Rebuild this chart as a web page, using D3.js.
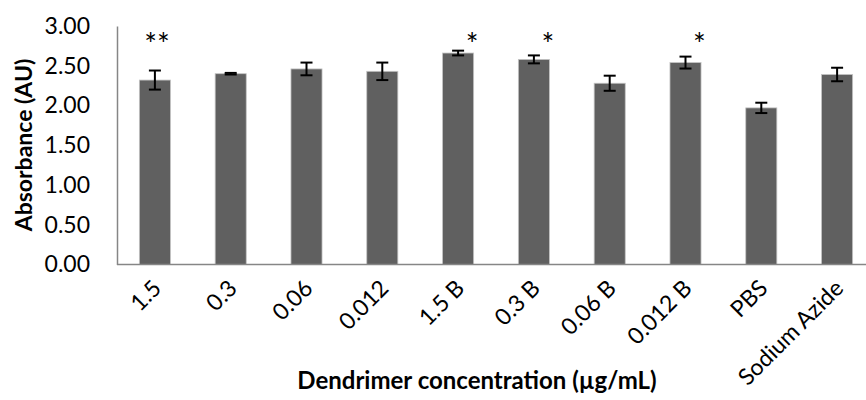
<!DOCTYPE html>
<html>
	<head>
		<meta charset="utf-8">
		<script src="https://cdn.jsdelivr.net/npm/d3@7"></script>
		<style>
			body { margin: 0; background: #fff; }
			text { font-family: Lato, "Open Sans", sans-serif; }
		</style>
	</head>
	<body> <svg width="866" height="400"></svg> </body>

	<script>
		// values
		var categories = ["1.5", "0.3", "0.06", "0.012", "1.5 B", "0.3 B", "0.06 B", "0.012 B", "PBS", "Sodium Azide"];
		var absorbance = [2.32, 2.40, 2.46, 2.43, 2.66, 2.58, 2.28, 2.54, 1.97, 2.39];
		var errors     = [0.12, 0.01, 0.08, 0.11, 0.03, 0.05, 0.095, 0.075, 0.065, 0.085];
		var stars      = ["**", "", "", "", "*", "*", "", "*", "", ""];
		var yTicks     = [0, 0.5, 1, 1.5, 2, 2.5, 3];

		var svg = d3.select("svg");
		var bar_color  = "#606060",
			axis_color = "#868686",
			font_size  = 23;

		var x = d3.scaleBand()
			.domain(categories)
			.range([117, 875])
			.paddingInner(0.59)
			.paddingOuter(0.295);

		var y = d3.scaleLinear()
			.domain([0, 3])
			.range([264.5, 26]);

		// y axis, no tick marks
		var yAxis = svg.append("g")
			.attr("transform", "translate(117,0)")
			.call(d3.axisLeft(y).tickValues(yTicks).tickFormat(d3.format(".2f")).tickSize(0).tickPadding(27));
		yAxis.select(".domain").attr("stroke", axis_color).attr("stroke-width", 1.5);
		yAxis.selectAll("text")
			.attr("font-size", font_size + "px")
			.attr("font-family", "Lato")
			.attr("fill", "#000");

		// bars
		svg.append("g").selectAll("rect")
			.data(categories)
			.join("rect")
			.attr("x", function(d) { return x(d); })
			.attr("width", x.bandwidth())
			.attr("y", function(d, i) { return y(absorbance[i]); })
			.attr("height", function(d, i) { return y(0) - y(absorbance[i]); })
			.attr("fill", bar_color)
			.attr("stroke", "#c4c4c4")
			.attr("stroke-width", 0.8);

		// x axis line, drawn over the bars
		svg.append("line")
			.attr("x1", 117).attr("x2", 866)
			.attr("y1", y(0)).attr("y2", y(0))
			.attr("stroke", axis_color)
			.attr("stroke-width", 1.5);

		// error bars
		var eb = svg.append("g").attr("stroke", "#000").attr("stroke-width", 2);
		categories.forEach(function(c, i) {
			var cx = x(c) + x.bandwidth() / 2,
				hi = y(absorbance[i] + errors[i]),
				lo = y(absorbance[i] - errors[i]);
			eb.append("line").attr("x1", cx).attr("x2", cx).attr("y1", hi).attr("y2", lo);
			eb.append("line").attr("x1", cx - 6).attr("x2", cx + 6).attr("y1", hi).attr("y2", hi);
			eb.append("line").attr("x1", cx - 6).attr("x2", cx + 6).attr("y1", lo).attr("y2", lo);
		});

		// significance stars
		svg.append("g").selectAll("text")
			.data(categories)
			.join("text")
			.attr("x", function(d, i) { return x(d) + x.bandwidth() / 2 + (stars[i].length == 1 ? 14 : 2); })
			.attr("y", 55)
			.attr("text-anchor", "middle")
			.attr("font-family", "DejaVu Sans")
			.attr("font-size", "30px")
			.attr("fill", "#000")
			.text(function(d, i) { return stars[i]; });

		// rotated category labels
		svg.append("g").selectAll("text")
			.data(categories)
			.join("text")
			.attr("transform", function(d) {
				return "translate(" + (x(d) + x.bandwidth() / 2 + 2) + ",284) rotate(-45)";
			})
			.attr("text-anchor", "end")
			.attr("dy", "0.35em")
			.attr("font-size", "23px")
			.attr("fill", "#000")
			.text(function(d) { return d; });

		// axis titles
		svg.append("text")
			.attr("transform", "translate(32,145) rotate(-90)")
			.attr("text-anchor", "middle")
			.attr("font-size", "23px")
			.attr("font-weight", "bold")
			.attr("fill", "#000")
			.text("Absorbance (AU)");

		svg.append("text")
			.attr("x", 477)
			.attr("y", 389)
			.attr("text-anchor", "middle")
			.attr("font-size", "24px")
			.attr("font-weight", "bold")
			.attr("fill", "#000")
			.text("Dendrimer concentration (µg/mL)");
	</script>
</html>
